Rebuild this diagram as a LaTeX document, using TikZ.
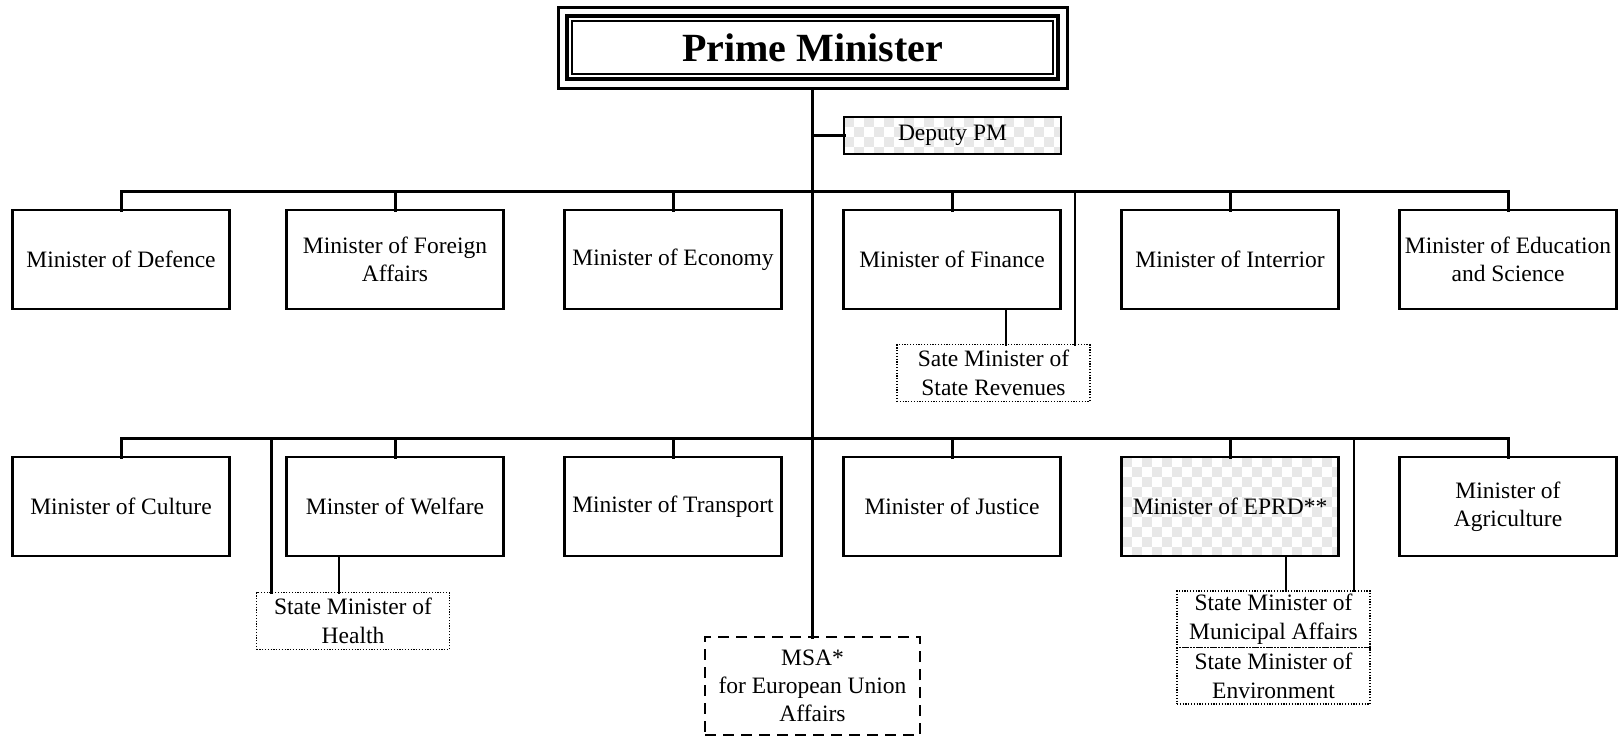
\documentclass[tikz,border=0pt]{standalone}
\usepackage{fontspec}
\setmainfont{Liberation Serif}
\usetikzlibrary{positioning,calc}
\tikzstyle{minister}=[draw,line width=2.6pt,outer sep=0pt,inner sep=0pt,minimum width=217pt,minimum height=99pt,align=center,font=\fontsize{23.5}{28}\selectfont]
\tikzstyle{statemin}=[draw,line width=1.2pt,dash pattern=on 1.2pt off 1.6pt,outer sep=0pt,inner sep=0pt,minimum width=193pt,minimum height=56.5pt,align=center,font=\fontsize{23.5}{28.5}\selectfont]
\tikzstyle{msabox}=[draw,line width=2.8pt,dash pattern=on 11pt off 7pt,outer sep=0pt,inner sep=0pt,minimum width=215pt,minimum height=98pt,align=center,font=\fontsize{23.5}{28}\selectfont]
\tikzstyle{pmbox}=[draw,line width=3pt,outer sep=0pt,inner sep=0pt,minimum width=509pt,minimum height=81pt,font=\fontsize{40}{44}\selectfont\bfseries]
\tikzstyle{checker}=[path picture={
    \foreach \i in {0,...,22} \foreach \j in {0,...,10} {
      \pgfmathtruncatemacro{\k}{mod(\i+\j,2)}
      \ifnum\k=0
        \fill[black!9] ($(path picture bounding box.north west)+(\i*10pt,-\j*10pt)$) rectangle +(10pt,-10pt);
      \fi}}]
\tikzstyle{orgline} = [draw,line width=3pt,line cap=rect]

\begin{document}
\begin{tikzpicture}[x=1pt,y=-1pt]
    \useasboundingbox (0,0) rectangle (1621,739);

    % Head of government
    \node[pmbox] (pm) at (812.5,47.5) {Prime Minister};
    \draw[line width=4pt] ([shift={(9pt,-9pt)}]pm.north west) rectangle ([shift={(-9pt,9pt)}]pm.south east);
    \draw[line width=1.4pt] ([shift={(14pt,-14pt)}]pm.north west) rectangle ([shift={(-14pt,14pt)}]pm.south east);
    \node[minister,checker,minimum height=37pt,line width=2.2pt] (dep) at (952.5,135.5) {Deputy PM};

    % First row of ministers
    \foreach \pos/\name/\txt in {{(121,259.5)/def/{Minister of Defence}}, {(395,259.5)/for/{Minister of Foreign\\Affairs}},
        {(673,259.5)/eco/{Minister of Economy}}, {(952,259.5)/fin/{Minister of Finance}},
        {(1230,259.5)/int/{Minister of Interrior}}, {(1508,259.5)/edu/{Minister of Education\\and Science}}}
        \node[minister] (\name) at \pos {\txt};

    % Second row of ministers
    \foreach \pos/\name/\txt in {{(121,506.5)/cul/{Minister of Culture}}, {(395,506.5)/wel/{Minster of Welfare}},
        {(673,506.5)/tra/{Minister of Transport}}, {(952,506.5)/jus/{Minister of Justice}},
        {(1508,506.5)/agr/{Minister of\\Agriculture}}}
        \node[minister] (\name) at \pos {\txt};
    \node[minister,checker] (eprd) at (1230,506.5) {Minister of EPRD**};

    % State ministers
    \node[statemin] (srev) at (993.5,373) {Sate Minister of\\State Revenues};
    \node[statemin] (hea) at (353,621) {State Minister of\\Health};
    \node[statemin] (mun) at (1273.5,619.25) {State Minister of\\Municipal Affairs};
    \node[statemin] (env) at (1273.5,675.75) {State Minister of\\Environment};
    \node[msabox] (msa) at (812.5,686) {MSA*\\for European Union\\Affairs};

    % Connect boxes
    \coordinate (busA) at (812,191);
    \coordinate (busB) at (812,438);
    \path[orgline] (pm.south) -- (msa.north);
    \path[orgline] (pm.south |- dep.west) -- (dep.west);
    \path[orgline] (def.north |- busA) -- (edu.north |- busA);
    \path[orgline] (cul.north |- busB) -- (agr.north |- busB);
    \foreach \n in {def,for,eco,fin,int,edu}
        \path[orgline] (\n.north) -- (\n.north |- busA);
    \foreach \n in {cul,wel,tra,jus,eprd,agr}
        \path[orgline] (\n.north) -- (\n.north |- busB);

    \path[orgline,line width=2.2pt] ([xshift=54pt]fin.south) -- ([xshift=54pt]fin.south |- srev.north);
    \path[orgline,line width=2.2pt] ([xshift=-15pt]srev.north east) -- ([xshift=-15pt]srev.north east |- busA);
    \path[orgline,line width=2.2pt] ([xshift=-56pt]wel.south) -- ([xshift=-56pt]wel.south |- hea.north);
    \path[orgline,line width=2.2pt] ([xshift=15pt]hea.north west) -- ([xshift=15pt]hea.north west |- busB);
    \path[orgline,line width=2.2pt] ([xshift=56pt]eprd.south) -- ([xshift=56pt]eprd.south |- mun.north);
    \path[orgline,line width=2.2pt] ([xshift=-16pt]mun.north east) -- ([xshift=-16pt]mun.north east |- busB);
\end{tikzpicture}
\end{document}
